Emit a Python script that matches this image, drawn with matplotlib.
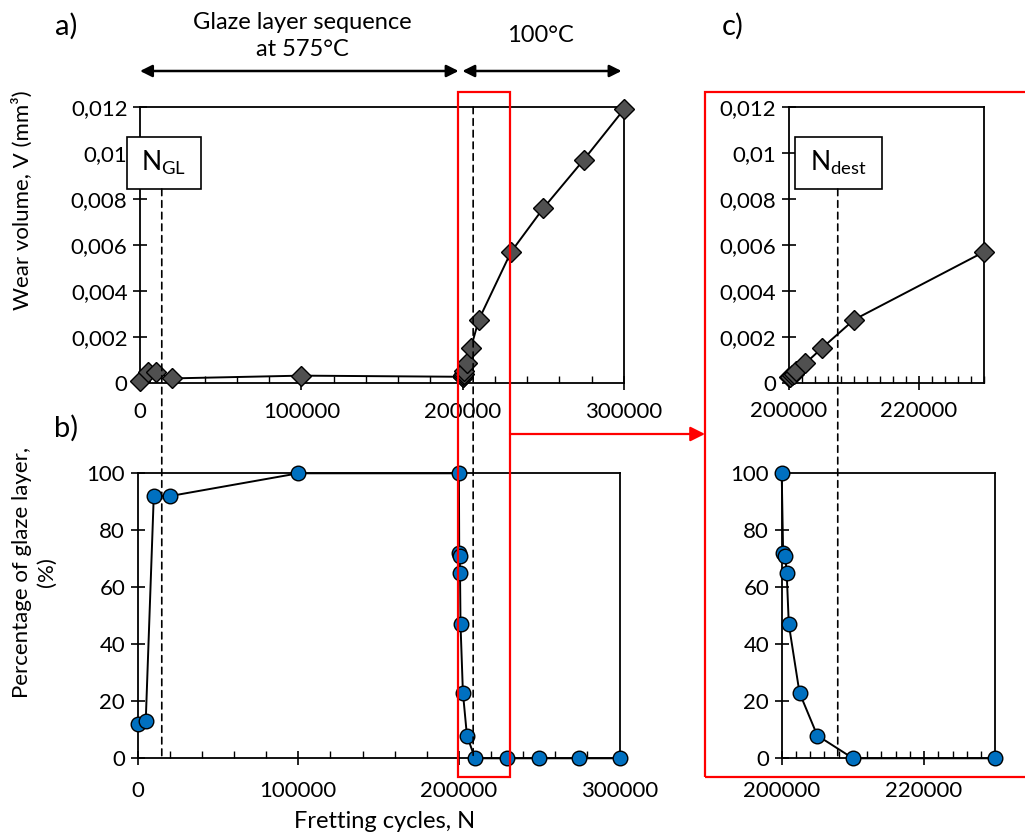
import matplotlib
matplotlib.use("Agg")
import matplotlib.pyplot as plt
import matplotlib.transforms as mtransforms
from matplotlib.patches import ConnectionPatch, Rectangle, FancyArrowPatch
from matplotlib.ticker import MultipleLocator, FuncFormatter

plt.rcParams['font.family'] = ['Lato', 'DejaVu Sans']

# fretting cycles and measured values
cycles = [0, 5000, 10000, 20000, 100000, 200000, 200200, 200500, 200700,
          201000, 202500, 205000, 210000, 230000, 250000, 275000, 300000]
wear = [0.0001, 0.00048, 0.00046, 0.0002, 0.00032, 0.00027, 0.00028, 0.00035,
        0.0004, 0.0005, 0.00085, 0.0015, 0.00275, 0.0057, 0.0076, 0.0097, 0.0119]
glaze = [12, 13, 92, 92, 100, 100, 72, 71, 65, 47, 23, 8, 0, 0, 0, 0, 0]

n_gl = 13500
n_dest = 207500
n_dest_left = 206500

W, H = 1025, 836


def px(x, y):
    return x / W, 1 - y / H


def comma(v, pos):
    return f"{v:g}".replace('.', ',')


def style(ax, minor, xpad):
    for s in ax.spines.values():
        s.set_linewidth(1.3)
    ax.tick_params(which='major', direction='inout', length=10, width=1.2,
                   labelsize=16)
    ax.tick_params(axis='y', pad=4)
    ax.tick_params(axis='x', pad=xpad)
    ax.tick_params(which='minor', direction='in', length=5, width=1.0)
    ax.xaxis.set_minor_locator(MultipleLocator(minor))
    ax.xaxis.set_major_formatter(FuncFormatter(lambda v, p: f"{int(round(v))}"))


fig = plt.figure(figsize=(W / 100, H / 100), dpi=100)

ax_a = fig.add_axes([140 / W, 1 - 383 / H, 484 / W, 276 / H])
ax_b = fig.add_axes([137.7 / W, 1 - 758.3 / H, 481.8 / W, 285 / H])
ax_c1 = fig.add_axes([789 / W, 1 - 383 / H, 195 / W, 276 / H])
ax_c2 = fig.add_axes([781.7 / W, 1 - 758.3 / H, 213.6 / W, 285 / H])

zoom_idx = [i for i, n in enumerate(cycles) if 200000 <= n <= 230000]
cz = [cycles[i] for i in zoom_idx]
wz = [wear[i] for i in zoom_idx]
gz = [glaze[i] for i in zoom_idx]

dia = dict(color='k', lw=1.4, marker='D', ms=10, mfc='#505050', mec='k',
           mew=1, clip_on=False, zorder=3)
circ = dict(color='k', lw=1.4, marker='o', ms=10.5, mfc='#0070C0', mec='k',
            mew=1, clip_on=False, zorder=3)

ax_a.plot(cycles, wear, **dia)
ax_c1.plot(cz, wz, **dia)
ax_b.plot(cycles, glaze, **circ)
ax_c2.plot(cz, gz, **circ)

for ax in (ax_a, ax_b):
    ax.set_xlim(0, 300000)
    ax.set_xticks([0, 100000, 200000, 300000])
for ax in (ax_c1, ax_c2):
    ax.set_xlim(200000, 230000)
    ax.set_xticks([200000, 220000])
style(ax_a, 20000, 9)
style(ax_b, 20000, 11)
style(ax_c1, 2000, 8)
style(ax_c2, 2000, 11)

for ax in (ax_a, ax_c1):
    ax.set_ylim(0, 0.012)
    ax.set_yticks([0, 0.002, 0.004, 0.006, 0.008, 0.01, 0.012])
    ax.yaxis.set_major_formatter(FuncFormatter(comma))
for ax in (ax_b, ax_c2):
    ax.set_ylim(0, 100)
    ax.set_yticks([0, 20, 40, 60, 80, 100])

# labelled boxes
box_y0, box_y1 = 0.703, 0.891
for ax, x0, x1, lab in ((ax_a, -0.027, 0.125, r'$\mathregular{N_{GL}}$'),
                        (ax_c1, 0.031, 0.475, r'$\mathregular{N_{dest}}$')):
    ax.add_patch(Rectangle((x0, box_y0), x1 - x0, box_y1 - box_y0,
                           transform=ax.transAxes, fill=True, fc='white',
                           ec='k', lw=1.2, clip_on=False, zorder=5))
    ax.text((x0 + x1) / 2, (box_y0 + box_y1) / 2, lab, transform=ax.transAxes,
            ha='center', va='center', fontsize=19, zorder=6)

# dashed markers through both panels
dash = dict(linestyle=(0, (4, 3)), lw=1.2, color='k', shrinkA=0, shrinkB=0,
            arrowstyle='-', zorder=2)
bl_left = mtransforms.blended_transform_factory(ax_a.transData, ax_b.transData)
bl_left_top = mtransforms.blended_transform_factory(ax_a.transData, ax_a.transAxes)
bl_right = mtransforms.blended_transform_factory(ax_c1.transData, ax_c2.transData)
bl_right_top = mtransforms.blended_transform_factory(ax_c1.transData, ax_c1.transAxes)
fig.add_artist(ConnectionPatch(xyA=(n_gl, box_y0), coordsA=bl_left_top,
                               xyB=(n_gl, 0), coordsB=bl_left, **dash))
fig.add_artist(ConnectionPatch(xyA=(n_dest_left, 1), coordsA=bl_left_top,
                               xyB=(n_dest_left, 0), coordsB=bl_left, **dash))
fig.add_artist(ConnectionPatch(xyA=(n_dest, box_y0), coordsA=bl_right_top,
                               xyB=(n_dest, 0), coordsB=bl_right, **dash))

# zoom frames
x0, y0 = px(458.3, 776.7)
fig.add_artist(Rectangle((x0, y0), 51.7 / W, 684.7 / H, transform=fig.transFigure,
                         fill=False, ec='red', lw=1.6, zorder=7))
x0, y0 = px(705, 776.7)
fig.add_artist(Rectangle((x0, y0), 330 / W, 684.7 / H, transform=fig.transFigure,
                         fill=False, ec='red', lw=1.6, zorder=7))
fig.add_artist(FancyArrowPatch(px(510, 434), px(705, 434), transform=fig.transFigure,
                               arrowstyle='-|>', mutation_scale=22, color='red',
                               lw=1.6, shrinkA=0, shrinkB=0, zorder=7))

# temperature sequence arrows
arr = dict(arrowstyle='<|-|>', color='k', lw=1.8, mutation_scale=18,
           shrinkA=0, shrinkB=0)
ya = 1 - 71 / H
ax_a.annotate('', xy=(0, ya), xytext=(197500, ya),
              xycoords=('data', 'figure fraction'), arrowprops=arr,
              annotation_clip=False)
ax_a.annotate('', xy=(199800, ya), xytext=(298500, ya),
              xycoords=('data', 'figure fraction'), arrowprops=arr,
              annotation_clip=False)

fig.text(*px(302, 36), 'Glaze layer sequence\nat 575°C', ha='center', va='center',
         fontsize=17, linespacing=1.35)
fig.text(*px(540, 36), '100°C', ha='center', va='center', fontsize=17)
fig.text(*px(66, 26), 'a)', ha='center', va='center', fontsize=21)
fig.text(*px(66, 428), 'b)', ha='center', va='center', fontsize=21)
fig.text(*px(733, 26), 'c)', ha='center', va='center', fontsize=21)

fig.text(*px(22, 200), 'Wear volume, V (mm³)', rotation=90, ha='center',
         va='center', fontsize=16)
fig.text(*px(34, 572), 'Percentage of glaze layer,\n(%)', rotation=90,
         ha='center', va='center', fontsize=16, multialignment='center',
         linespacing=1.3)
fig.text(*px(385, 822), 'Fretting cycles, N', ha='center', va='center',
         fontsize=17)

fig.savefig('out.png', dpi=100)
